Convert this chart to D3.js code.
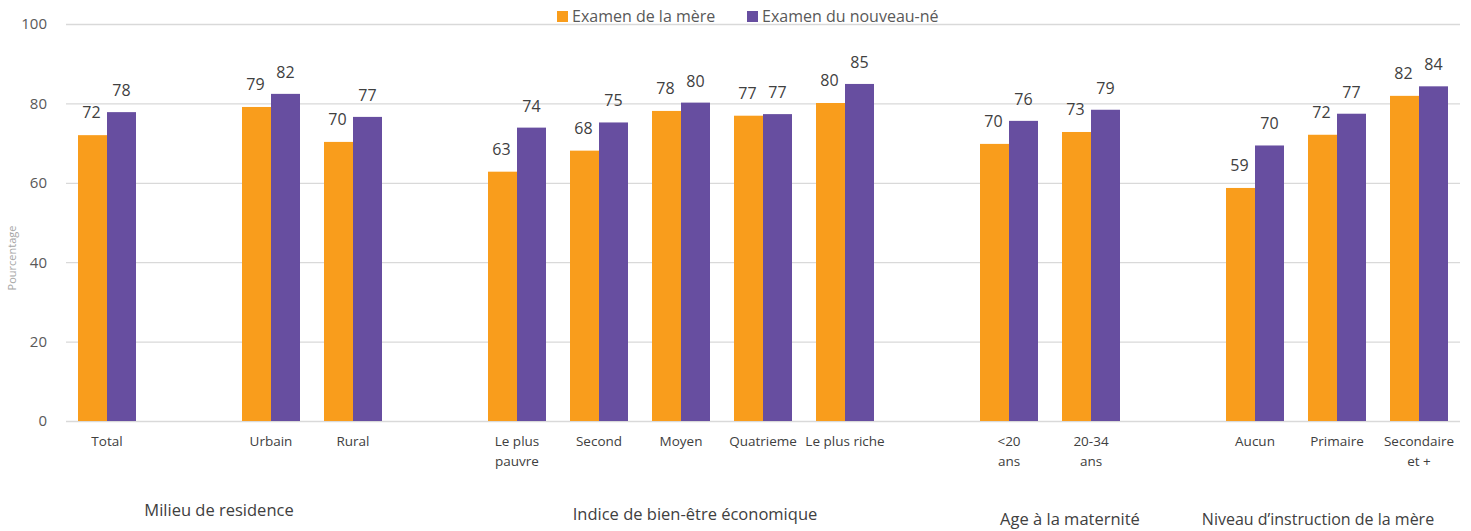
<!DOCTYPE html>
<html><head><meta charset="utf-8">
<script src="https://cdn.jsdelivr.net/npm/d3@7"></script>
<style>body{margin:0;background:#fff}svg{display:block}</style>
</head><body>
<svg id="c" width="1471" height="531"></svg>
<script>
const slots = ["Total","_g1","Urbain","Rural","_g2","Le plus|pauvre","Second","Moyen","Quatrieme","Le plus riche","_g3","<20|ans","20-34|ans","_g4","Aucun","Primaire","Secondaire|et +"];
const categories = ["Total","Urbain","Rural","Le plus|pauvre","Second","Moyen","Quatrieme","Le plus riche","<20|ans","20-34|ans","Aucun","Primaire","Secondaire|et +"];
const mere =    [72.0,79.1,70.3,62.8,68.1,78.1,76.9,80.1,69.8,72.8,58.7,72.1,81.9];
const nouveau = [77.8,82.4,76.6,73.9,75.2,80.2,77.3,84.9,75.6,78.4,69.4,77.4,84.3];
const labelsMere = [72,79,70,63,68,78,77,80,70,73,59,72,82];
const labelsNouveau = [78,82,77,74,75,80,77,85,76,79,70,77,84];
const series = ["Examen de la mère","Examen du nouveau-né"];
const colors = ["#F99D1C","#674EA0"];
const yTicks = [0,20,40,60,80,100];
const groups = ["Milieu de residence","Indice de bien-être économique","Age à la maternité","Niveau d’instruction de la mère"];
const groupMembers = [["Total","Rural"],["Le plus|pauvre","Le plus riche"],["<20|ans","20-34|ans"],["Aucun","Secondaire|et +"]];

const svg = d3.select("#c");
const L = 66, R = 1460, T = 24, B = 421;
const x = d3.scaleBand().domain(slots).range([L,R]).paddingInner(0).paddingOuter(0);
const x1 = d3.scaleBand().domain(series).range([0,x.bandwidth()]).paddingInner(0).paddingOuter(0.414);
const y = d3.scaleLinear().domain([0,100]).range([B,T]);
const font = "'Open Sans', 'Noto Sans', sans-serif";

// grid
const yAxis = d3.axisLeft(y).tickValues(yTicks).tickSize(-(R-L)).tickPadding(19);
const ga = svg.append("g").attr("transform",`translate(${L},0)`).call(yAxis);
ga.select(".domain").remove();
ga.selectAll(".tick line").attr("stroke","#d9d9d9").attr("stroke-width",1.3);
ga.selectAll(".tick text").attr("fill","#595959").attr("font-size",15).attr("font-family",font);

// bars
const data = categories.map((c,i)=>({c, vals:[mere[i],nouveau[i]], labs:[labelsMere[i],labelsNouveau[i]]}));
const gg = svg.append("g");
data.forEach(d=>{
  series.forEach((s,j)=>{
    const bx = x(d.c)+x1(s);
    gg.append("rect").attr("x",bx).attr("y",y(d.vals[j])).attr("width",x1.bandwidth()).attr("height",y(0)-y(d.vals[j])).attr("fill",colors[j]);
    gg.append("text").attr("x",bx+x1.bandwidth()/2 + (j===0?-1:0)).attr("y",y(d.vals[j])-(j===0?17:16))
      .attr("text-anchor","middle").attr("font-size",16).attr("font-family",font).attr("fill","#404040").text(d.labs[j]);
  });
});

// category labels
categories.forEach(c=>{
  const lines = c.split("|");
  const t = svg.append("text").attr("x",x(c)+x.bandwidth()/2).attr("y",446).attr("text-anchor","middle")
    .attr("font-size",13.5).attr("font-family",font).attr("fill","#404040");
  lines.forEach((ln,k)=>t.append("tspan").attr("x",x(c)+x.bandwidth()/2).attr("dy",k===0?0:20).text(ln));
});

// group labels
const gdx = [-11,14,20,-19];
const gy = [516,520,525,525];
groups.forEach((g,i)=>{
  const a = groupMembers[i][0], b = groupMembers[i][1];
  const cx = (x(a)+x(b)+x.bandwidth())/2 + gdx[i];
  svg.append("text").attr("x",cx).attr("y",gy[i]).attr("text-anchor","middle")
    .attr("font-size",i===3?16:16.5).attr("font-family",font).attr("fill","#404040").text(g);
});

// y title
svg.append("text").attr("transform","translate(16,258) rotate(-90)").attr("text-anchor","middle")
  .attr("font-size",11).attr("font-family",font).attr("fill","#a6a6a6").text("Pourcentage");

// legend
const leg = svg.append("g");
const legX = [557,747];
series.forEach((s,j)=>{
  leg.append("rect").attr("x",legX[j]).attr("y",11).attr("width",11).attr("height",11).attr("fill",colors[j]);
  leg.append("text").attr("x",legX[j]+15).attr("y",22).attr("font-size",16).attr("font-family",font).attr("fill","#595959").text(s);
});
</script>
</body></html>
